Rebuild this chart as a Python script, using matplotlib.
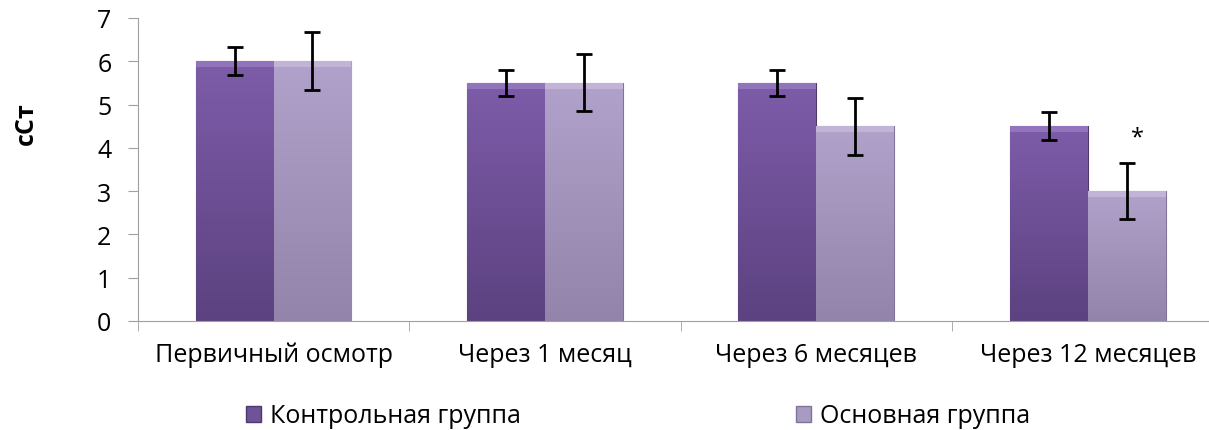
import matplotlib.pyplot as plt
import numpy as np
from matplotlib.colors import LinearSegmentedColormap
from matplotlib.patches import Patch

# data
categories = ["Первичный осмотр", "Через 1 месяц", "Через 6 месяцев", "Через 12 месяцев"]
control = [6.0, 5.5, 5.5, 4.5]
control_err = [0.32, 0.3, 0.3, 0.32]
main = [6.0, 5.5, 4.5, 3.0]
main_err = [0.67, 0.66, 0.66, 0.65]
series_names = ["Контрольная группа", "Основная группа"]

plt.rcParams["font.family"] = ["Open Sans", "DejaVu Sans"]

dark = "#6f5297"
light = "#a99ac2"
axis_gray = "#a0a0a0"
shades = {
    dark: ("#5c4280", "#7d5ca9", "#9a7fc4"),
    light: ("#9384ab", "#b1a2cb", "#c9bddc"),
}

fig = plt.figure(figsize=(12.09, 4.31), dpi=100)
ax = fig.add_axes([0.114, 0.253, 0.898, 0.703])

x = np.arange(len(categories))
w = 0.287
err_kw = dict(ecolor="black", elinewidth=2, capsize=6, capthick=2, zorder=5)
b1 = ax.bar(x - w / 2, control, w, color=dark, edgecolor="#4f3a6e", linewidth=0.8,
            yerr=control_err, error_kw=err_kw, label=series_names[0])
b2 = ax.bar(x + w / 2, main, w, color=light, edgecolor="#807398", linewidth=0.8,
            yerr=main_err, error_kw=err_kw, label=series_names[1])

# glossy vertical gradient with a lighter bevel at the top of each bar
grad = np.linspace(0, 1, 256).reshape(-1, 1)
for bars, base in ((b1, dark), (b2, light)):
    lo, mid, hi = shades[base]
    cmap = LinearSegmentedColormap.from_list("g", [lo, mid])
    for bar in bars:
        x0, y0 = bar.get_x(), bar.get_y()
        bw, bh = bar.get_width(), bar.get_height()
        im = ax.imshow(grad, cmap=cmap, aspect="auto", origin="lower",
                       extent=(x0, x0 + bw, y0, y0 + bh), zorder=2)
        im.set_clip_path(bar)
        top = ax.fill_between([x0, x0 + bw], y0 + bh - 0.14, y0 + bh,
                              color=hi, alpha=0.7, linewidth=0, zorder=3)
        top.set_clip_path(bar)

ax.text(x[3] + w / 2 + 0.04, 4.25, "*", ha="center", va="center", fontsize=17)

ax.set_xlim(-0.5, len(categories) - 0.5)
ax.set_ylim(0, 7)
ax.set_yticks(range(0, 8))
ax.set_xticks(x)
ax.set_xticklabels(categories, fontsize=18)
ax.set_xticks(np.arange(-0.5, len(categories)), minor=True)
ax.tick_params(axis="x", which="major", length=0, pad=15)
ax.tick_params(axis="x", which="minor", length=7, color=axis_gray, direction="out")
ax.tick_params(axis="y", length=7, color=axis_gray, labelsize=18, pad=12)
for side in ["top", "right"]:
    ax.spines[side].set_visible(False)
for side in ["left", "bottom"]:
    ax.spines[side].set_color(axis_gray)

fig.text(26 / 1209, 1 - 124 / 431, "сСт", rotation=90, ha="center", va="center",
         fontsize=18, fontweight="bold")

handles = [Patch(facecolor=dark, edgecolor="#4f3a6e"), Patch(facecolor=light, edgecolor="#807398")]
for handle, name, xpos in zip(handles, series_names, (246 / 1209, 796 / 1209)):
    fig.legend([handle], [name], loc="center left", bbox_to_anchor=(xpos, 1 - 417 / 431),
               frameon=False, fontsize=18, handlelength=0.6, handleheight=0.6,
               handletextpad=0.35, borderpad=0, borderaxespad=0)

fig.savefig("out.png", dpi=100)
